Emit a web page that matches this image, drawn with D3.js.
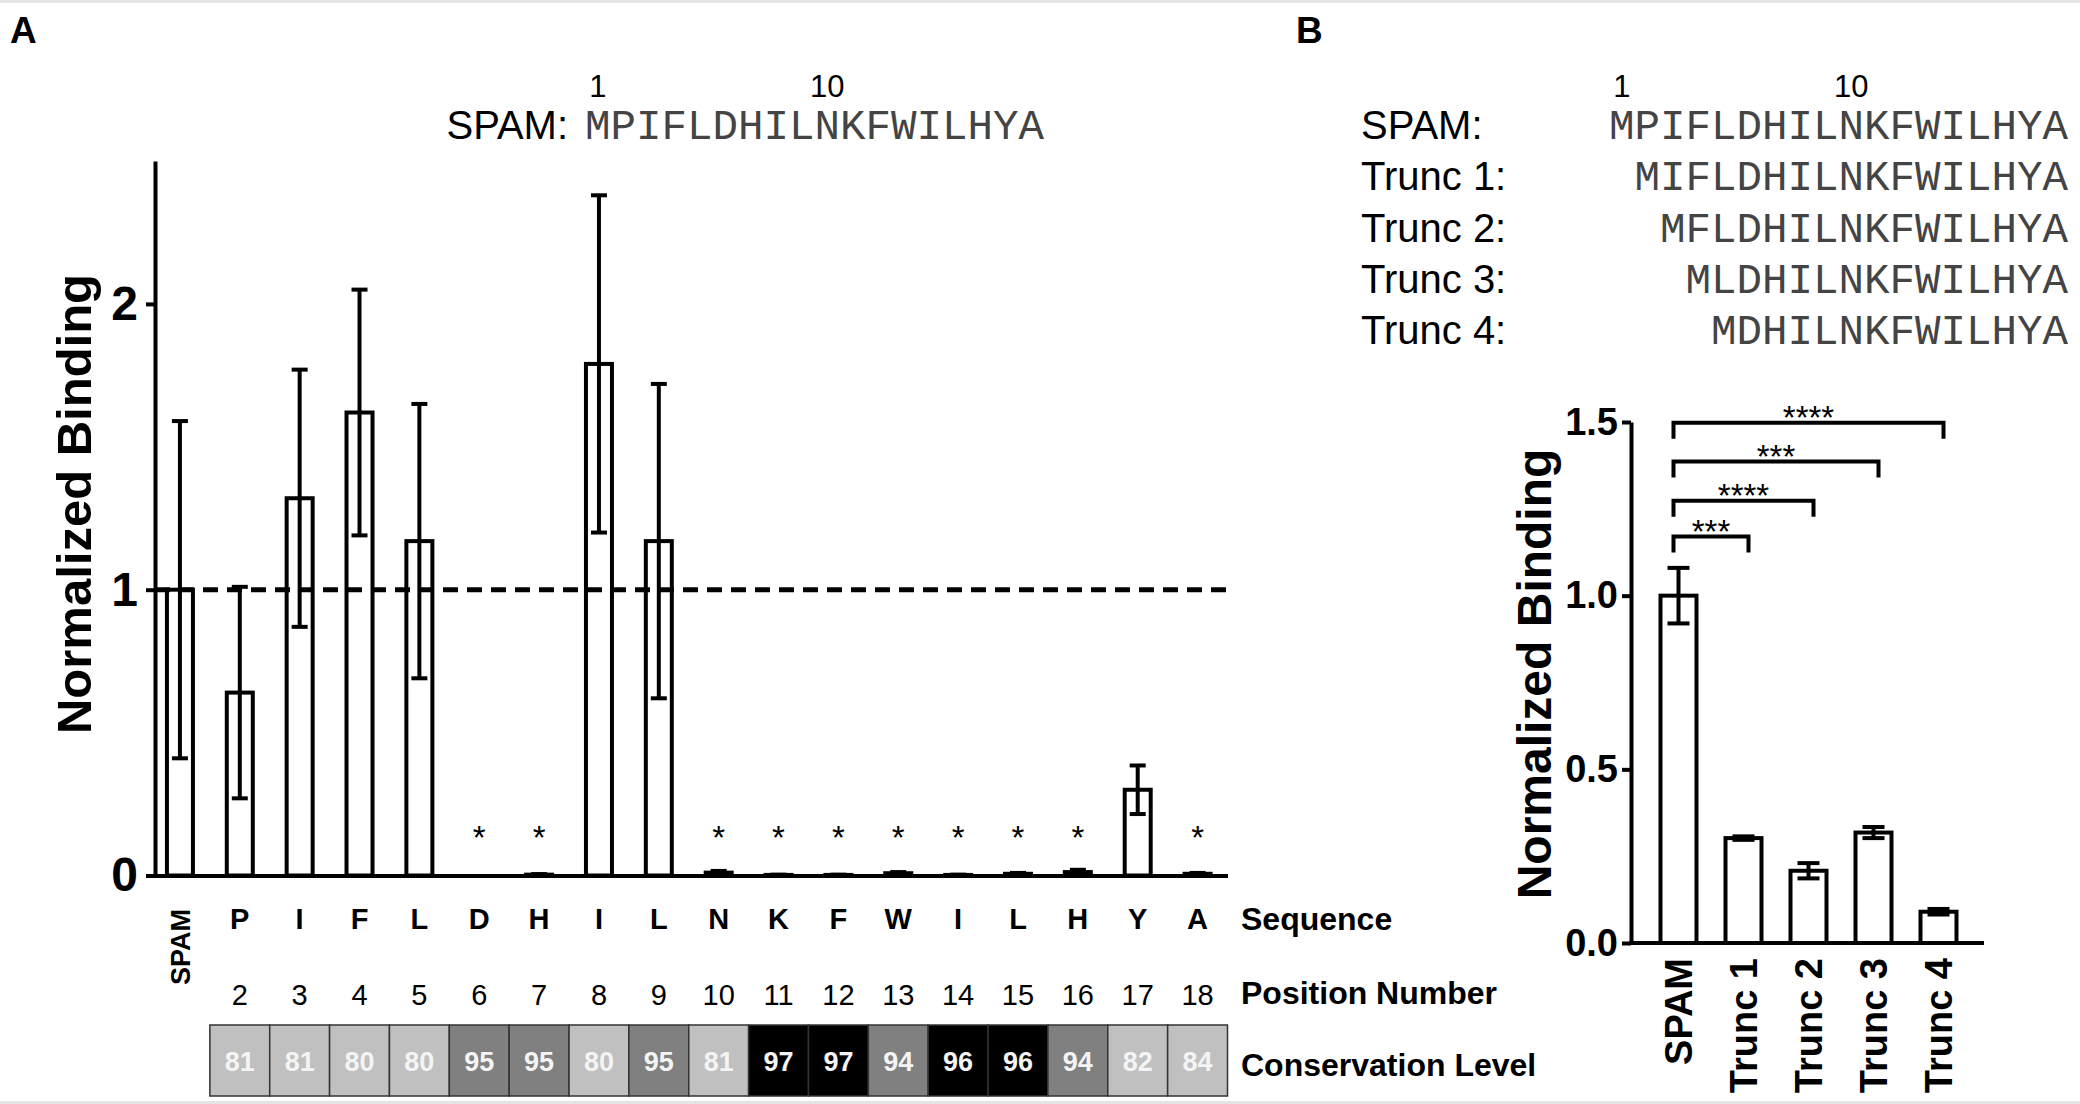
<!DOCTYPE html>
<meta charset="utf-8">
<style>
body { margin: 0; background: #fff; }
svg text { font-family: "Liberation Sans", Arial, sans-serif; fill: #000; }
.mono { font-family: "Liberation Mono", "Courier New", monospace !important; fill: #444 !important; }
.axis path, .axis line { stroke: #000; stroke-width: 4; }
.axis text { font-weight: bold; }
</style>
<body>
<script src="https://cdnjs.cloudflare.com/ajax/libs/d3/7.8.5/d3.min.js"></script>
<script>

// ---- panel A data ----
var aPos = ["1","2","3","4","5","6","7","8","9","10","11","12","13","14","15","16","17","18"];
var aResidue = ["SPAM","P","I","F","L","D","H","I","L","N","K","F","W","I","L","H","Y","A"];
var aMean = [1.00, 0.64, 1.32, 1.62, 1.17, 0, 0.003, 1.79, 1.17, 0.01, 0.002, 0.002, 0.008, 0.002, 0.006, 0.012, 0.30, 0.006];
var aSd   = [0.59, 0.37, 0.45, 0.43, 0.48, 0, 0.002, 0.59, 0.55, 0.006, 0.001, 0.001, 0.004, 0.001, 0.003, 0.008, 0.085, 0.003];
var aStar = ["", "", "", "", "", "*", "*", "", "", "*", "*", "*", "*", "*", "*", "*", "", "*"];
var aNumber = ["", "2","3","4","5","6","7","8","9","10","11","12","13","14","15","16","17","18"];
var aConservation = [null, 81, 81, 80, 80, 95, 95, 80, 95, 81, 97, 97, 94, 96, 96, 94, 82, 84];
var aTicks = [0, 1, 2];
var aRowLabels = ["Sequence", "Position Number", "Conservation Level"];

// ---- panel B data ----
var bNames = ["SPAM", "Trunc 1", "Trunc 2", "Trunc 3", "Trunc 4"];
var bMean = [1.00, 0.302, 0.208, 0.318, 0.090];
var bSd   = [0.080, 0.005, 0.022, 0.016, 0.008];
var bTicks = [0, 0.5, 1.0, 1.5];
var bSigTarget = ["Trunc 1", "Trunc 2", "Trunc 3", "Trunc 4"];
var bSigLevel  = [1.17, 1.273, 1.386, 1.498];
var bSigText   = ["***", "****", "***", "****"];

// ---- sequences ----
var seqNames = ["SPAM:", "Trunc 1:", "Trunc 2:", "Trunc 3:", "Trunc 4:"];
var seqs = ["MPIFLDHILNKFWILHYA", "MIFLDHILNKFWILHYA", "MFLDHILNKFWILHYA", "MLDHILNKFWILHYA", "MDHILNKFWILHYA"];
var seqMarks = [1, 10];

var W = 2080, H = 1104;
var svg = d3.select("body").append("svg").attr("width", W).attr("height", H);

// faint frame lines top and bottom
svg.append("rect").attr("x", 0).attr("y", 0).attr("width", W).attr("height", 3).attr("fill", "#e4e4e4");
svg.append("rect").attr("x", 0).attr("y", H - 3).attr("width", W).attr("height", 3).attr("fill", "#e4e4e4");

// panel letters
svg.append("text").attr("x", 10).attr("y", 43).style("font-size", "37px").style("font-weight", "bold").text("A");
svg.append("text").attr("x", 1296).attr("y", 43).style("font-size", "37px").style("font-weight", "bold").text("B");

// ================= PANEL A =================
var xA = d3.scaleBand().domain(aPos).range([150, 1227.5]);
var yA = d3.scaleLinear().domain([0, 2.5]).range([875.5, 161]);
function cxA(i) { return xA(aPos[i]) + xA.bandwidth() / 2; }

var gA = svg.append("g");

gA.append("g").attr("class", "axis")
  .attr("transform", "translate(155,0)")
  .call(d3.axisLeft(yA).tickValues(aTicks).tickSize(9).tickSizeOuter(0).tickPadding(8).tickFormat(d3.format("d")))
  .selectAll("text").style("font-size", "48px");

gA.append("g").attr("class", "axis")
  .attr("transform", "translate(0," + yA(0) + ")")
  .call(d3.axisBottom(xA).tickValues([]).tickSizeOuter(0));

var aIdx = d3.range(aPos.length);

// bars
gA.selectAll("rect.bar").data(aIdx.filter(function(i){ return aMean[i] > 0; }))
  .enter().append("rect")
  .attr("class", "bar")
  .attr("x", function(i){ return cxA(i) - 13; })
  .attr("y", function(i){ return yA(aMean[i]); })
  .attr("width", 26)
  .attr("height", function(i){ return yA(0) - yA(aMean[i]); })
  .attr("fill", "#fff").attr("stroke", "#000").attr("stroke-width", 4);

// error bars
var errA = gA.selectAll("g.err").data(aIdx.filter(function(i){ return aSd[i] > 0; }))
  .enter().append("g").attr("class", "err");
errA.append("line")
  .attr("x1", cxA).attr("x2", cxA)
  .attr("y1", function(i){ return yA(Math.max(0, aMean[i] - aSd[i])); })
  .attr("y2", function(i){ return yA(aMean[i] + aSd[i]); })
  .attr("stroke", "#000").attr("stroke-width", 4);
errA.selectAll("line.cap").data(function(i){ return [[i, aMean[i] - aSd[i]], [i, aMean[i] + aSd[i]]]; })
  .enter().append("line").attr("class", "cap")
  .attr("x1", function(d){ return cxA(d[0]) - 8; })
  .attr("x2", function(d){ return cxA(d[0]) + 8; })
  .attr("y1", function(d){ return yA(Math.max(0, d[1])); })
  .attr("y2", function(d){ return yA(Math.max(0, d[1])); })
  .attr("stroke", "#000").attr("stroke-width", 4);

// reference line at 1
gA.append("line")
  .attr("x1", 155).attr("x2", xA.range()[1])
  .attr("y1", yA(1)).attr("y2", yA(1))
  .attr("stroke", "#000").attr("stroke-width", 5).attr("stroke-dasharray", "15,9");

// significance stars
gA.selectAll("text.star").data(aIdx.filter(function(i){ return aStar[i]; }))
  .enter().append("text").attr("class", "star")
  .attr("x", cxA).attr("y", yA(0.16) + 19)
  .attr("text-anchor", "middle").style("font-size", "33px")
  .text(function(i){ return aStar[i]; });

// y label
gA.append("text")
  .attr("transform", "translate(74,504) rotate(-90)")
  .attr("text-anchor", "middle").attr("dy", "0.35em")
  .style("font-size", "49px").style("font-weight", "bold")
  .text("Normalized Binding");

// residue row
gA.selectAll("text.res").data(aIdx.slice(1))
  .enter().append("text").attr("class", "res")
  .attr("x", cxA).attr("y", 929)
  .attr("text-anchor", "middle").style("font-size", "29px").style("font-weight", "bold")
  .text(function(i){ return aResidue[i]; });
gA.append("text")
  .attr("transform", "translate(" + cxA(0) + ",909) rotate(-90)")
  .attr("text-anchor", "end").attr("dy", "0.36em")
  .style("font-size", "27px").style("font-weight", "bold")
  .text(aResidue[0]);

// position numbers
gA.selectAll("text.pos").data(aIdx.slice(1))
  .enter().append("text").attr("class", "pos")
  .attr("x", cxA).attr("y", 1005)
  .attr("text-anchor", "middle").style("font-size", "29px")
  .text(function(i){ return aNumber[i]; });

// conservation cells
var shade = function(v){ return v >= 96 ? "#000" : (v >= 90 ? "#808080" : "#c0c0c0"); };
var cell = gA.selectAll("g.cell").data(aIdx.slice(1)).enter().append("g").attr("class", "cell");
cell.append("rect")
  .attr("x", function(i){ return xA(aPos[i]); })
  .attr("y", 1025).attr("width", xA.bandwidth()).attr("height", 71)
  .attr("fill", function(i){ return shade(aConservation[i]); })
  .attr("stroke", "#333").attr("stroke-width", 1.5);
cell.append("text")
  .attr("x", cxA).attr("y", 1071)
  .attr("text-anchor", "middle").style("font-size", "27px").style("font-weight", "bold")
  .style("fill", "#f4f4f4")
  .text(function(i){ return aConservation[i]; });

// row labels
gA.selectAll("text.rowlab").data(aRowLabels)
  .enter().append("text").attr("class", "rowlab")
  .attr("x", 1241).attr("y", function(d, i){ return [930, 1004, 1076][i]; })
  .style("font-size", "32px").style("font-weight", "bold")
  .text(function(d){ return d; });

// sequence header A
var fsMono = 42.5, chW = fsMono * 0.6;
var aSeqX = 585;
gA.append("text").attr("x", 568).attr("y", 139).attr("text-anchor", "end")
  .style("font-size", "40px").text(seqNames[0]);
gA.append("text").attr("class", "mono").attr("x", aSeqX).attr("y", 139)
  .style("font-size", fsMono + "px").text(seqs[0]);
gA.selectAll("text.mark").data(seqMarks).enter().append("text").attr("class", "mark")
  .attr("x", function(k){ return aSeqX + (k - 0.5) * chW; }).attr("y", 97)
  .attr("text-anchor", "middle").style("font-size", "31px")
  .text(function(k){ return k; });

// ================= PANEL B =================
var gB = svg.append("g");
var seqRight = 2068;
gB.selectAll("text.sname").data(seqNames).enter().append("text").attr("class", "sname")
  .attr("x", 1361).attr("y", function(d, i){ return 139 + i * 51.3; })
  .style("font-size", "40px").text(function(d){ return d; });
gB.selectAll("text.sseq").data(seqs).enter().append("text").attr("class", "sseq mono")
  .attr("x", seqRight).attr("y", function(d, i){ return 139 + i * 51.3; })
  .attr("text-anchor", "end").style("font-size", fsMono + "px")
  .text(function(d){ return d; });
var bSeqX = seqRight - seqs[0].length * chW;
gB.selectAll("text.bmark").data(seqMarks).enter().append("text").attr("class", "bmark")
  .attr("x", function(k){ return bSeqX + (k - 0.5) * chW; }).attr("y", 97)
  .attr("text-anchor", "middle").style("font-size", "31px")
  .text(function(k){ return k; });

var xB = d3.scaleBand().domain(bNames).range([1646, 1971]);
var yB = d3.scaleLinear().domain([0, 1.5]).range([943, 422]);
function cxB(n) { return xB(n) + xB.bandwidth() / 2; }

gB.append("g").attr("class", "axis")
  .attr("transform", "translate(1631,0)")
  .call(d3.axisLeft(yB).tickValues(bTicks).tickSize(9).tickSizeOuter(0).tickPadding(4).tickFormat(d3.format(".1f")))
  .selectAll("text").style("font-size", "38px");

gB.append("line").attr("x1", 1629).attr("x2", xB.range()[1] + 13)
  .attr("y1", yB(0)).attr("y2", yB(0))
  .attr("stroke", "#000").attr("stroke-width", 4);

var bIdx = d3.range(bNames.length);
gB.selectAll("rect.bbar").data(bIdx).enter().append("rect").attr("class", "bbar")
  .attr("x", function(i){ return cxB(bNames[i]) - 18; })
  .attr("y", function(i){ return yB(bMean[i]); })
  .attr("width", 36)
  .attr("height", function(i){ return yB(0) - yB(bMean[i]); })
  .attr("fill", "#fff").attr("stroke", "#000").attr("stroke-width", 4);

var errB = gB.selectAll("g.berr").data(bIdx).enter().append("g").attr("class", "berr");
errB.append("line")
  .attr("x1", function(i){ return cxB(bNames[i]); }).attr("x2", function(i){ return cxB(bNames[i]); })
  .attr("y1", function(i){ return yB(bMean[i] - bSd[i]); })
  .attr("y2", function(i){ return yB(bMean[i] + bSd[i]); })
  .attr("stroke", "#000").attr("stroke-width", 4);
errB.selectAll("line.bcap").data(function(i){ return [[i, bMean[i] - bSd[i]], [i, bMean[i] + bSd[i]]]; })
  .enter().append("line").attr("class", "bcap")
  .attr("x1", function(d){ return cxB(bNames[d[0]]) - 11; })
  .attr("x2", function(d){ return cxB(bNames[d[0]]) + 11; })
  .attr("y1", function(d){ return yB(d[1]); })
  .attr("y2", function(d){ return yB(d[1]); })
  .attr("stroke", "#000").attr("stroke-width", 4);

// significance brackets
var sig = gB.selectAll("g.sig").data(d3.range(bSigTarget.length)).enter().append("g").attr("class", "sig");
sig.append("path")
  .attr("d", function(i){
    var x1 = cxB(bNames[0]) - 5, x2 = cxB(bSigTarget[i]) + 5;
    return "M" + x1 + "," + yB(bSigLevel[i] - 0.046) + "V" + yB(bSigLevel[i]) +
           "H" + x2 + "V" + yB(bSigLevel[i] - 0.046);
  })
  .attr("fill", "none").attr("stroke", "#000").attr("stroke-width", 4);
sig.append("text")
  .attr("x", function(i){ return (cxB(bNames[0]) + cxB(bSigTarget[i])) / 2; })
  .attr("y", function(i){ return yB(bSigLevel[i]) + 6; })
  .attr("text-anchor", "middle").style("font-size", "33px")
  .text(function(i){ return bSigText[i]; });

// x labels
gB.selectAll("text.bx").data(bNames).enter().append("text").attr("class", "bx")
  .attr("transform", function(n){ return "translate(" + cxB(n) + ",958) rotate(-90)"; })
  .attr("text-anchor", "end").attr("dy", "0.36em")
  .style("font-size", "38px").style("font-weight", "bold")
  .text(function(n){ return n; });

gB.append("text")
  .attr("transform", "translate(1534,674) rotate(-90)")
  .attr("text-anchor", "middle").attr("dy", "0.35em")
  .style("font-size", "48px").style("font-weight", "bold")
  .text("Normalized Binding");

</script>
</body>
